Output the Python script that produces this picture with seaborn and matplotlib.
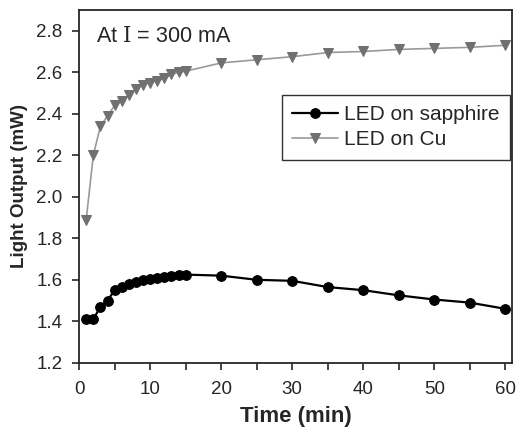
import numpy as np
import pandas as pd
import matplotlib
matplotlib.use("Agg")
import matplotlib.pyplot as plt
import seaborn as sns

# data
time_min = [1, 2, 3, 4, 5, 6, 7, 8, 9, 10, 11, 12, 13, 14, 15,
            20, 25, 30, 35, 40, 45, 50, 55, 60]
led_sapphire = [1.41, 1.41, 1.47, 1.50, 1.55, 1.565, 1.58, 1.59, 1.60, 1.605,
                1.61, 1.615, 1.62, 1.625, 1.625,
                1.62, 1.60, 1.595, 1.565, 1.55, 1.525, 1.505, 1.49, 1.46]
led_cu = [1.89, 2.20, 2.34, 2.39, 2.44, 2.46, 2.49, 2.52, 2.54, 2.55,
          2.56, 2.57, 2.59, 2.60, 2.605,
          2.645, 2.66, 2.675, 2.695, 2.70, 2.71, 2.715, 2.72, 2.73]

df = pd.DataFrame({"time": time_min, "sapphire": led_sapphire, "cu": led_cu})

sns.set_style("ticks")
plt.rcParams['font.family'] = ['Liberation Sans', 'DejaVu Sans']
plt.rcParams['mathtext.fontset'] = 'dejavuserif'

fig = plt.figure(figsize=(5.17, 4.34), dpi=100)
ax = fig.add_axes([0.153, 0.164, 0.837, 0.813])

sns.lineplot(data=df, x="time", y="sapphire", ax=ax, color="black", lw=1.6,
             marker="o", markersize=7, markeredgecolor="black",
             label="LED on sapphire")
sns.lineplot(data=df, x="time", y="cu", ax=ax, color="#9a9a9a", lw=1.2,
             marker="v", markersize=7, markerfacecolor="#707070",
             markeredgecolor="#707070", label="LED on Cu")

ax.set_xlim(0, 60.9)
ax.set_ylim(1.2, 2.9)
ax.set_xticks(np.arange(0, 61, 10))
ax.set_xticks(np.arange(0, 61, 5), minor=True)
ax.set_yticks(np.arange(1.2, 2.81, 0.2))
ax.set_yticklabels([f"{v:.1f}" for v in np.arange(1.2, 2.81, 0.2)])
ax.tick_params(axis="both", which="both", direction="out", length=5, width=1.2,
               labelsize=13.5, top=False, right=False)
ax.tick_params(axis="x", pad=8)
ax.tick_params(axis="y", pad=7)
for s in ax.spines.values():
    s.set_linewidth(1.3)

ax.set_xlabel("Time (min)", fontsize=16, fontweight="bold", labelpad=6)
ax.set_ylabel("Light Output (mW)", fontsize=13.5, fontweight="bold", labelpad=6)

ax.text(0.04, 0.955, r"At $\mathrm{I}$ = 300 mA", transform=ax.transAxes,
        fontsize=15.5, va="top", ha="left")

leg = ax.legend(loc="upper right", bbox_to_anchor=(0.996, 0.76), fontsize=15,
                frameon=True, fancybox=False, handlelength=2.2,
                borderpad=0.5, labelspacing=0.3, handletextpad=0.3,
                borderaxespad=0.0)
leg.get_frame().set_edgecolor("black")
leg.get_frame().set_linewidth(1.0)

fig.savefig("out.png", dpi=100)
